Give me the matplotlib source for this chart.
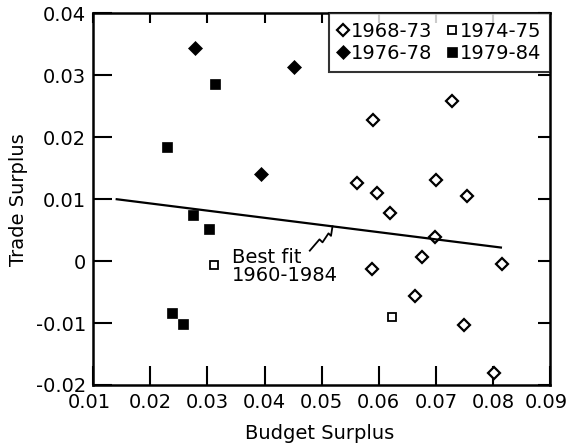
import matplotlib
matplotlib.use('Agg')
import matplotlib.pyplot as plt
import matplotlib.transforms as mtransforms
import numpy as np

plt.rcParams['font.family'] = ['DejaVu Sans']

# 1968-73 (open diamonds)
x_6873 = [0.0728, 0.0590, 0.0562, 0.0597, 0.0620, 0.0700, 0.0754, 0.0698,
          0.0588, 0.0675, 0.0816, 0.0664, 0.0749, 0.0802]
y_6873 = [0.0258, 0.0228, 0.0127, 0.0110, 0.0078, 0.0131, 0.0105, 0.0039,
          -0.0012, 0.0007, -0.0005, -0.0057, -0.0103, -0.0180]
# 1974-75 (open squares)
x_7475 = [0.0312, 0.0623]
y_7475 = [-0.0006, -0.0091]
# 1976-78 (filled diamonds)
x_7678 = [0.0278, 0.0451, 0.0394]
y_7678 = [0.0344, 0.0314, 0.0141]
# 1979-84 (filled squares)
x_7984 = [0.0313, 0.0229, 0.0275, 0.0303, 0.0238, 0.0257]
y_7984 = [0.0286, 0.0185, 0.0075, 0.0052, -0.0083, -0.0102]

# best fit 1960-1984, end points
fit_x = [0.0141, 0.0814]
fit_y = [0.0100, 0.0022]

xticks = [0.01, 0.02, 0.03, 0.04, 0.05, 0.06, 0.07, 0.08, 0.09]
xticklabels = ['0.01', '0.02', '0.03', '0.04', '0.05', '0.06', '0.07', '0.08', '0.09']
yticks = [0.04, 0.03, 0.02, 0.01, 0.0, -0.01, -0.02]
yticklabels = ['0.04', '0.03', '0.02', '0.01', '0', '-0.01', '-0.02']

fs = 14

fig = plt.figure(figsize=(5.7, 4.46), dpi=100)
ax = fig.add_axes([0.1637, 0.1368, 0.8012, 0.833])
ax.set_xlim(0.01, 0.09)
ax.set_ylim(-0.02, 0.04)

h1, = ax.plot(x_6873, y_6873, 'D', ms=6.5, mfc='white', mec='black', mew=1.6, ls='none')
h2, = ax.plot(x_7475, y_7475, 's', ms=6.0, mfc='white', mec='black', mew=1.3, ls='none')
h3, = ax.plot(x_7678, y_7678, 'D', ms=7.0, mfc='black', mec='black', mew=0.5, ls='none')
h4, = ax.plot(x_7984, y_7984, 's', ms=7.2, mfc='black', mec='black', mew=0.5, ls='none')

ax.plot(fit_x, fit_y, color='black', lw=1.6)

ax.set_xticks(xticks)
ax.set_xticklabels(xticklabels, fontsize=fs)
ax.set_yticks(yticks)
ax.set_yticklabels(yticklabels, fontsize=fs)
ax.tick_params(axis='both', which='major', direction='in', top=True, right=True,
               length=14, width=1.5)
ax.tick_params(axis='x', pad=6)
ax.tick_params(axis='y', pad=5)
# shorter ticks on the top and right sides
for t in ax.xaxis.get_major_ticks():
    t.tick2line.set_markersize(7)
for t in ax.yaxis.get_major_ticks():
    t.tick2line.set_markersize(9)

# first/last x labels nudged so they stay clear of the corner and the edge
xl = ax.get_xticklabels()
xl[0].set_transform(xl[0].get_transform() + mtransforms.ScaledTranslation(-3 / 72, 0, fig.dpi_scale_trans))
xl[-1].set_transform(xl[-1].get_transform() + mtransforms.ScaledTranslation(-3 / 72, 0, fig.dpi_scale_trans))

for s in ax.spines.values():
    s.set_linewidth(1.8)

ax.set_xlabel('Budget Surplus', fontsize=fs)
ax.set_ylabel('Trade Surplus', fontsize=fs)
ax.xaxis.set_label_coords(0.496, -0.105)
ax.yaxis.set_label_coords(-0.142, 0.5)

leg = ax.legend([h1, h3, h2, h4], ['1968-73', '1976-78', '1974-75', '1979-84'],
                ncol=2, loc='upper right', fontsize=fs, frameon=True, fancybox=False,
                borderaxespad=0, handlelength=0.6, handletextpad=0.1,
                columnspacing=0.7, labelspacing=0.14, borderpad=0.45)
leg.get_frame().set_edgecolor('black')
leg.get_frame().set_linewidth(1.5)

# label and squiggly leader to the fit line
ax.text(0.03424, 0.0021, 'Best fit\n1960-1984', fontsize=fs, ha='left', va='top',
        linespacing=0.95)
anchor = np.array([0.0519, fit_y[0] + (fit_y[1] - fit_y[0]) * (0.0519 - fit_x[0]) / (fit_x[1] - fit_x[0])])
base = ax.transData.transform(anchor)
offs = np.array([[-22.7, -24.3], [-13, -13], [-10, -16], [-4, -7], [-1.5, -9.5], [0, 0]])
pts = ax.transData.inverted().transform(base + offs)
ax.plot(pts[:, 0], pts[:, 1], color='black', lw=1.3)

fig.savefig('out.png', dpi=100)
